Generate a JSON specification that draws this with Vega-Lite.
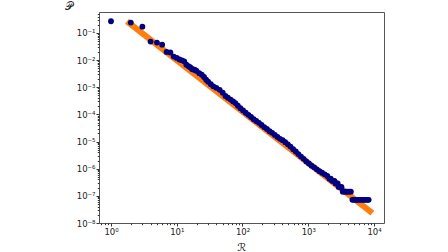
{
  "$schema": "https://vega.github.io/schema/vega-lite/v6.json",
  "autosize": "none",
  "width": 285,
  "height": 211,
  "padding": {"left": 99, "top": 12, "right": 64, "bottom": 29},
  "background": "white",
  "config": {
    "view": {"stroke": "#555", "strokeWidth": 1},
    "axis": {
      "grid": false,
      "domain": false,
      "labelFont": "DejaVu Sans",
      "labelFontSize": 8.5,
      "labelColor": "#222",
      "tickColor": "#333",
      "labelOverlap": false,
      "labelFlush": false,
      "labelBound": false,
      "titleFont": "DejaVu Sans",
      "titleFontWeight": "normal",
      "titleColor": "#222"
    }
  },
  "datasets": {
    "fit": [
      {"r": 1.9, "p": 0.230},
      {"r": 8700, "p": 2.71e-8}
    ],
    "pts": [
      {"r": 1, "p": 0.27}, {"r": 2, "p": 0.24}, {"r": 3, "p": 0.17}, {"r": 4, "p": 0.048},
      {"r": 5, "p": 0.044}, {"r": 6, "p": 0.037}, {"r": 7, "p": 0.020}, {"r": 8, "p": 0.019},
      {"r": 9, "p": 0.0135}, {"r": 10, "p": 0.012}, {"r": 11, "p": 0.0105}, {"r": 12, "p": 0.0098},
      {"r": 13, "p": 0.0090}, {"r": 14, "p": 0.0068}, {"r": 15, "p": 0.0060}, {"r": 16, "p": 0.0055},
      {"r": 17, "p": 0.0047}, {"r": 18, "p": 0.0045}, {"r": 19, "p": 0.0043}, {"r": 20, "p": 0.0040},
      {"r": 22, "p": 0.0033}, {"r": 24, "p": 0.0029}, {"r": 26, "p": 0.0024}, {"r": 28, "p": 0.0019},
      {"r": 30, "p": 0.0016}, {"r": 33, "p": 0.0013}, {"r": 36, "p": 0.00108}, {"r": 40, "p": 0.00095},
      {"r": 45, "p": 0.00080}, {"r": 50, "p": 0.00063}, {"r": 55, "p": 0.00048}, {"r": 60, "p": 0.00041},
      {"r": 66, "p": 0.00035}, {"r": 72, "p": 0.00030}, {"r": 78, "p": 0.00026}, {"r": 85, "p": 0.00021},
      {"r": 93, "p": 0.000170}, {"r": 102, "p": 0.000140}, {"r": 112, "p": 0.000115}, {"r": 123, "p": 0.000096},
      {"r": 135, "p": 0.000080}, {"r": 148, "p": 0.000066}, {"r": 162, "p": 0.000057}, {"r": 178, "p": 0.000049},
      {"r": 195, "p": 0.000041}, {"r": 214, "p": 0.000034}, {"r": 235, "p": 0.000029}, {"r": 258, "p": 0.000024},
      {"r": 283, "p": 0.000021}, {"r": 310, "p": 0.0000175}, {"r": 340, "p": 0.0000148}, {"r": 372, "p": 0.0000126},
      {"r": 408, "p": 0.0000112}, {"r": 447, "p": 0.0000095}, {"r": 490, "p": 0.0000079}, {"r": 537, "p": 0.0000065},
      {"r": 590, "p": 0.0000052}, {"r": 646, "p": 0.0000043}, {"r": 708, "p": 0.00000345}, {"r": 776, "p": 0.0000028},
      {"r": 851, "p": 0.0000023}, {"r": 933, "p": 0.00000186}, {"r": 1023, "p": 0.00000155}, {"r": 1122, "p": 0.00000129},
      {"r": 1230, "p": 0.00000112}, {"r": 1350, "p": 9.5e-7}, {"r": 1479, "p": 8.1e-7}, {"r": 1622, "p": 7.1e-7},
      {"r": 1778, "p": 6.2e-7}, {"r": 1950, "p": 5.4e-7}, {"r": 2100, "p": 4.3e-7}, {"r": 2200, "p": 4.3e-7},
      {"r": 2300, "p": 3.57e-7}, {"r": 2400, "p": 3.57e-7}, {"r": 2500, "p": 3.57e-7}, {"r": 2600, "p": 2.86e-7},
      {"r": 2700, "p": 2.86e-7}, {"r": 2800, "p": 2.86e-7}, {"r": 2900, "p": 2.14e-7}, {"r": 3050, "p": 2.14e-7},
      {"r": 3200, "p": 2.14e-7}, {"r": 3350, "p": 1.43e-7}, {"r": 3550, "p": 1.43e-7}, {"r": 3750, "p": 1.43e-7},
      {"r": 3950, "p": 1.43e-7}, {"r": 4200, "p": 1.43e-7}, {"r": 4450, "p": 1.43e-7}, {"r": 4700, "p": 7.14e-8},
      {"r": 5000, "p": 7.14e-8}, {"r": 5300, "p": 7.14e-8}, {"r": 5600, "p": 7.14e-8}, {"r": 5950, "p": 7.14e-8},
      {"r": 6300, "p": 7.14e-8}, {"r": 6700, "p": 7.14e-8}, {"r": 7100, "p": 7.14e-8}, {"r": 7500, "p": 7.14e-8},
      {"r": 7900, "p": 7.14e-8}, {"r": 8300, "p": 7.14e-8}
    ]
  },
  "layer": [
    {
      "data": {"name": "fit"},
      "mark": {"type": "line", "color": "#ff7f0e", "strokeWidth": 6, "strokeCap": "square", "clip": true},
      "encoding": {
        "x": {
          "field": "r", "type": "quantitative",
          "scale": {"type": "log", "domain": [0.657, 14200], "nice": false, "zero": false},
          "axis": {
            "title": "ℛ",
            "titleFontSize": 11,
            "titleBaseline": "middle",
            "titleY": 24,
            "values": [0.7,0.8,0.9,1,2,3,4,5,6,7,8,9,10,20,30,40,50,60,70,80,90,100,200,300,400,500,600,700,800,900,1000,2000,3000,4000,5000,6000,7000,8000,9000,10000],
            "labelPadding": 1.5,
            "tickSize": {"condition": {"test": "abs(log(datum.value)/LN10 - round(log(datum.value)/LN10)) < 0.001", "value": 3}, "value": 1.7},
            "labelExpr": "abs(log(datum.value)/LN10 - round(log(datum.value)/LN10)) < 0.001 ? '10' + (round(log(datum.value)/LN10) < 0 ? '⁻' : '') + substring('⁰¹²³⁴⁵⁶⁷⁸⁹', abs(round(log(datum.value)/LN10)), abs(round(log(datum.value)/LN10)) + 1) : ''"
          }
        },
        "y": {
          "field": "p", "type": "quantitative",
          "scale": {"type": "log", "domain": [1e-8, 0.59], "nice": false, "zero": false},
          "axis": {
            "title": "𝒫",
            "titleAngle": 0,
            "titleFontSize": 11,
            "titleAlign": "center",
            "titleBaseline": "middle",
            "titleX": -31,
            "titleY": -6,
            "values": [1e-8,2e-8,3e-8,4e-8,5e-8,6e-8,7e-8,8e-8,9e-8,1e-7,2e-7,3e-7,4e-7,5e-7,6e-7,7e-7,8e-7,9e-7,1e-6,2e-6,3e-6,4e-6,5e-6,6e-6,7e-6,8e-6,9e-6,1e-5,2e-5,3e-5,4e-5,5e-5,6e-5,7e-5,8e-5,9e-5,1e-4,2e-4,3e-4,4e-4,5e-4,6e-4,7e-4,8e-4,9e-4,0.001,0.002,0.003,0.004,0.005,0.006,0.007,0.008,0.009,0.01,0.02,0.03,0.04,0.05,0.06,0.07,0.08,0.09,0.1,0.2,0.3,0.4,0.5],
            "labelPadding": 1,
            "tickSize": {"condition": {"test": "abs(log(datum.value)/LN10 - round(log(datum.value)/LN10)) < 0.001", "value": 3}, "value": 1.7},
            "labelExpr": "abs(log(datum.value)/LN10 - round(log(datum.value)/LN10)) < 0.001 ? '10' + (round(log(datum.value)/LN10) < 0 ? '⁻' : '') + substring('⁰¹²³⁴⁵⁶⁷⁸⁹', abs(round(log(datum.value)/LN10)), abs(round(log(datum.value)/LN10)) + 1) : ''"
          }
        }
      }
    },
    {
      "data": {"name": "pts"},
      "mark": {"type": "circle", "color": "#000080", "opacity": 1, "size": 34},
      "encoding": {
        "x": {"field": "r", "type": "quantitative"},
        "y": {"field": "p", "type": "quantitative"}
      }
    }
  ]
}
